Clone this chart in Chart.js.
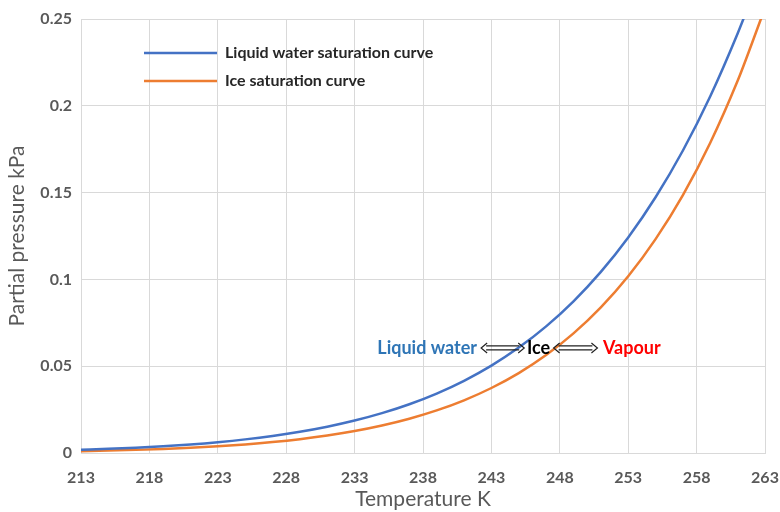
<!DOCTYPE html>
<html><head><meta charset="utf-8">
<script src="https://cdn.jsdelivr.net/npm/chart.js@4"></script>
<style>html,body{margin:0;padding:0;background:#fff}#wrap{width:780px;height:512px;position:relative}</style>
</head><body><div id="wrap"><canvas id="c" width="780" height="512"></canvas></div>
<script>
const temps = [213,215,217,219,221,223,225,227,229,231,233,235,237,239,241,243,245,247,249,251,253,255,257,259,261,262,263];
const liquidWater = [0.00186,0.00239,0.00306,0.00391,0.00495,0.00625,0.00785,0.00982,0.01222,0.01513,0.01868,0.02295,0.02809,0.03424,0.04160,0.05035,0.06072,0.07296,0.08740,0.10434,0.12417,0.14731,0.17425,0.20550,0.24166,0.26178,null];
const iceCurve = [0.00106,0.00139,0.00180,0.00234,0.00301,0.00387,0.00494,0.00629,0.00797,0.01006,0.01263,0.01582,0.01973,0.02452,0.03035,0.03744,0.04602,0.05641,0.06889,0.08387,0.10179,0.12318,0.14857,0.17871,0.21438,0.2350,0.25643];
const xTicks = [213,218,223,228,233,238,243,248,253,258,263];
const yTicks = [0,0.05,0.1,0.15,0.2,0.25];
const seriesNames = ['Liquid water saturation curve','Ice saturation curve'];
const annot = {left:'Liquid water', mid:'Ice', right:'Vapour'};

const GREY='#595959', GRID='#d9d9d9';
const BLUE='#4472C4', ORANGE='#ED7D31';

const overlay = {
  id:'overlay',
  afterDraw(chart){
    const ctx=chart.ctx, xs=chart.scales.x, ys=chart.scales.y;
    ctx.save();
    // legend
    const items=[[seriesNames[0],BLUE,53],[seriesNames[1],ORANGE,81]];
    ctx.font='bold 16px Lato';
    ctx.textBaseline='middle';ctx.textAlign='left';
    items.forEach(([t,c,y])=>{
      ctx.strokeStyle=c;ctx.lineWidth=2.5;ctx.beginPath();ctx.moveTo(144,y);ctx.lineTo(217,y);ctx.stroke();
      ctx.fillStyle='#262626';ctx.fillText(t,225,y);
    });
    // annotation
    const y=ys.getPixelForValue(0.0605);
    ctx.font='bold 18px Lato';
    ctx.fillStyle='#2E75B6';ctx.textAlign='right';
    ctx.fillText(annot.left, xs.getPixelForValue(241.95), y);
    ctx.fillStyle='#000';ctx.textAlign='left';
    ctx.fillText(annot.mid, xs.getPixelForValue(245.6), y);
    ctx.fillStyle='#FF0000';
    ctx.fillText(annot.right, xs.getPixelForValue(251.15), y);
    const arrow=(x1,x2)=>{
      ctx.strokeStyle='#222';ctx.lineWidth=1.2;
      ctx.beginPath();
      ctx.moveTo(x1+5,y-2);ctx.lineTo(x2-5,y-2);
      ctx.moveTo(x1+5,y+2);ctx.lineTo(x2-5,y+2);
      ctx.moveTo(x1+6,y-5);ctx.lineTo(x1,y);ctx.lineTo(x1+6,y+5);
      ctx.moveTo(x2-6,y-5);ctx.lineTo(x2,y);ctx.lineTo(x2-6,y+5);
      ctx.stroke();
    };
    arrow(xs.getPixelForValue(242.25), xs.getPixelForValue(245.4));
    arrow(xs.getPixelForValue(247.55), xs.getPixelForValue(250.75));
    ctx.restore();
  }
};

new Chart(document.getElementById('c'),{
  type:'line',
  data:{datasets:[
    {label:seriesNames[0],data:temps.map((t,i)=>({x:t,y:liquidWater[i]})),borderColor:BLUE,borderWidth:2.5,pointRadius:0,cubicInterpolationMode:'monotone',spanGaps:false},
    {label:seriesNames[1],data:temps.map((t,i)=>({x:t,y:iceCurve[i]})),borderColor:ORANGE,borderWidth:2.5,pointRadius:0,cubicInterpolationMode:'monotone'}
  ]},
  options:{
    responsive:false,animation:false,
    layout:{padding:{top:19,right:15,left:0,bottom:0}},
    plugins:{legend:{display:false},tooltip:{enabled:false}},
    scales:{
      x:{type:'linear',min:213,max:263,
        afterBuildTicks(s){s.ticks=xTicks.map(v=>({value:v}));},
        afterFit(s){s.height=59;s.paddingLeft=0;s.paddingRight=0;},
        grid:{color:GRID,drawTicks:false},border:{color:GRID},
        ticks:{color:GREY,font:{family:'Lato',size:16,weight:'bold'},padding:15,maxRotation:0,autoSkip:false},
        title:{display:true,text:'Temperature K',color:GREY,font:{family:'Lato',size:21},padding:{top:0,bottom:0}}
      },
      y:{type:'linear',min:0,max:0.25,
        afterBuildTicks(s){s.ticks=yTicks.map(v=>({value:v}));},
        afterFit(s){s.width=81;s.paddingTop=0;s.paddingBottom=0;},
        grid:{color:GRID,drawTicks:false},border:{color:GRID},
        ticks:{color:GREY,font:{family:'Lato',size:16,weight:'bold'},padding:9,callback:v=>String(+v.toFixed(2))},
        title:{display:true,text:'Partial pressure kPa',color:GREY,font:{family:'Lato',size:21},padding:{top:5,bottom:0}}
      }
    }
  },
  plugins:[overlay]
});
</script></body></html>
